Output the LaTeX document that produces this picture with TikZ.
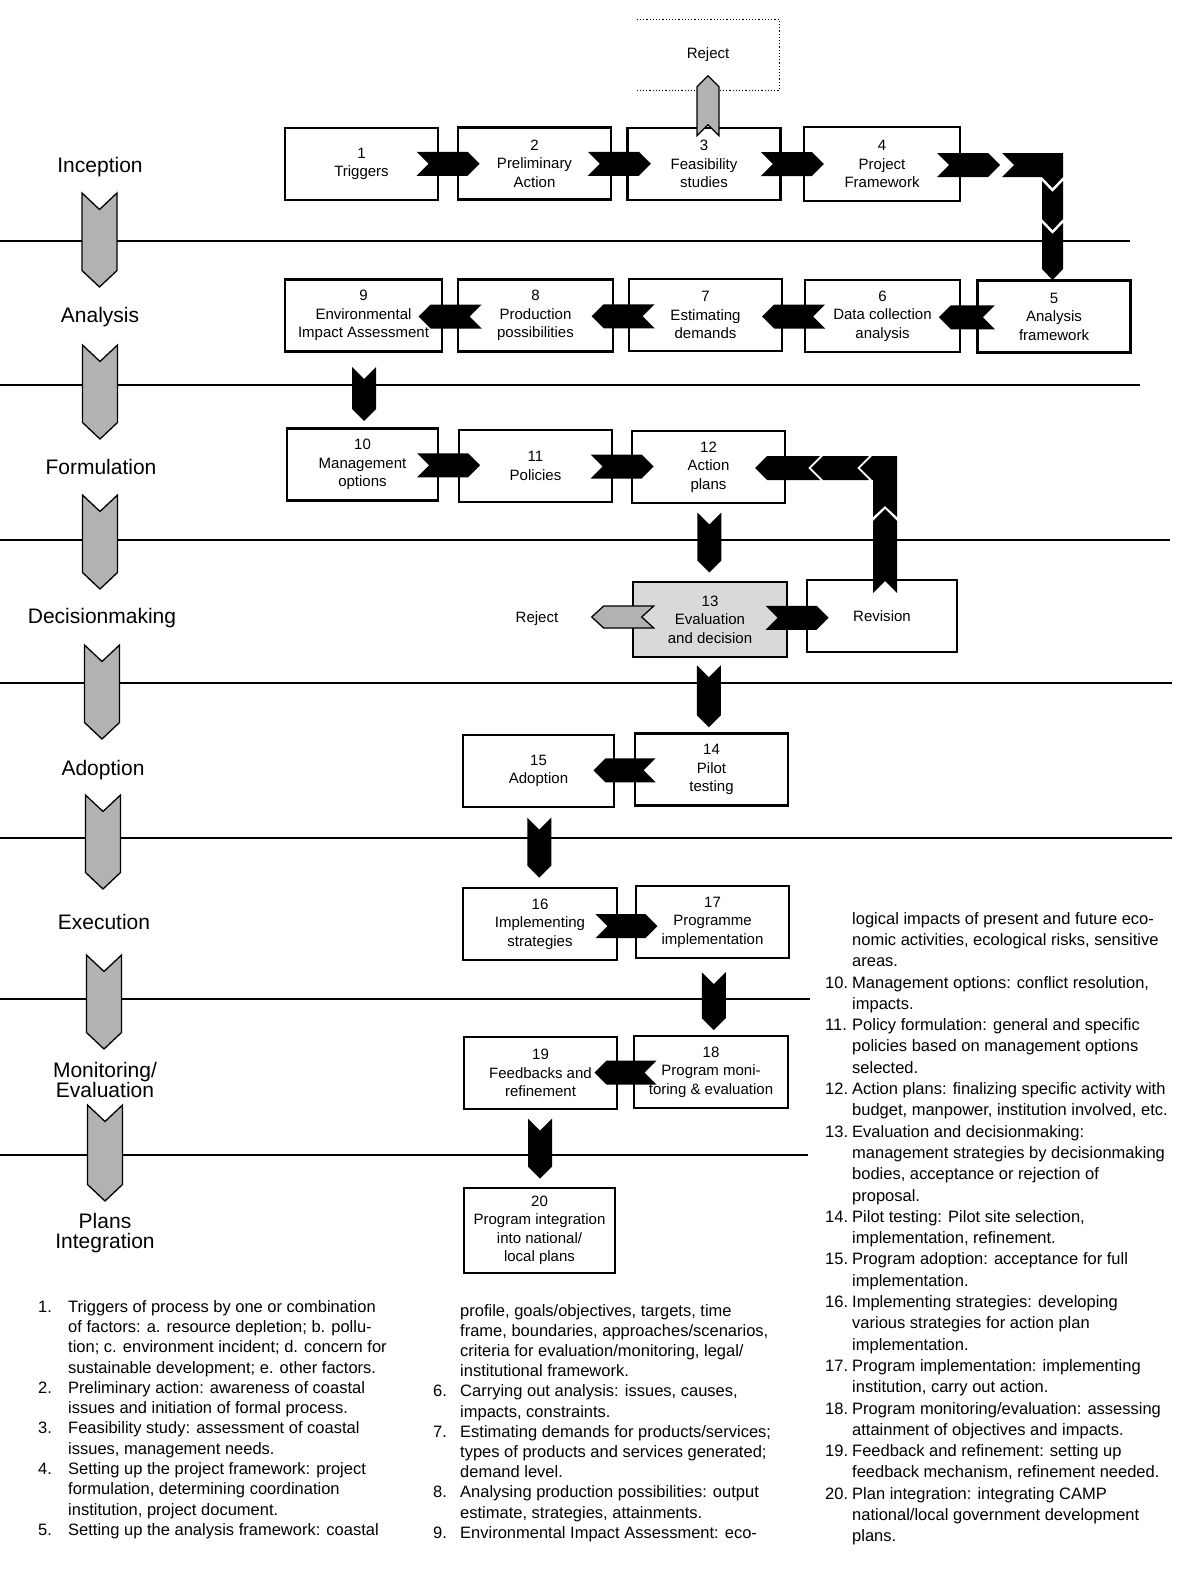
\documentclass[tikz,border=0pt]{standalone}
\usepackage{fontspec}
\setmainfont{Liberation Sans}
\usetikzlibrary{calc}
\tikzset{
  box/.style={draw, line width=2.6pt, minimum width=153pt, minimum height=72pt, align=center, inner sep=2pt, font=\fontsize{15}{18.5}\selectfont},
  stage/.style={align=center, font=\fontsize{21}{19.5}\selectfont},
  lbl/.style={font=\fontsize{15}{18.5}\selectfont},
  sepline/.style={line width=1.8pt},
  blk/.style={fill=black},
  gry/.style={fill=gray!60, draw=black, line width=1.3pt, line join=miter},
  pics/chev/.style args={#1/#2/#3}{code={\path[pic actions] (-#1/2,#2) -- (#1/2-#3,#2) -- (#1/2,0) -- (#1/2-#3,-#2) -- (-#1/2,-#2) -- (-#1/2+#3,0) -- cycle;}},
  desc/.style={anchor=north west, inner sep=0pt, align=left},
}
\newcommand\itm[2][27pt]{\makebox[#1][l]{#2}}
\begin{document}
\begin{tikzpicture}[x=1pt,y=-1pt]
\useasboundingbox[fill=white] (0,0) rectangle (1204,1576);

% stage separator lines
\draw[sepline] (0,241) -- (1130,241);
\draw[sepline] (0,385) -- (1140,385);
\draw[sepline] (0,540) -- (1170,540);
\draw[sepline] (0,683) -- (1172,683);
\draw[sepline] (0,838) -- (1172,838);
\draw[sepline] (0,999) -- (810,999);
\draw[sepline] (0,1155) -- (808,1155);

% stage labels
\node[stage] (s1) at (100,167) {Inception};
\node[stage] (s2) at (100,317) {Analysis};
\node[stage] (s3) at (101,467) {Formulation};
\node[stage] (s4) at (102,618) {Decisionmaking};
\node[stage] (s5) at (103,770) {Adoption};
\node[stage] (s6) at (104,922) {Execution};
\node[stage] (s7) at (105,1080) {Monitoring/\\Evaluation};
\node[stage] (s8) at (105,1233) {Plans\\Integration};

% stage arrows
\pic[gry, rotate=-90] at (99.5,240) {chev=94/17.5/16.5};
\pic[gry, rotate=-90] at (100,392) {chev=94/17.5/16.5};
\pic[gry, rotate=-90] at (100,542) {chev=94/17.5/16.5};
\pic[gry, rotate=-90] at (102,692) {chev=94/17.5/16.5};
\pic[gry, rotate=-90] at (103,842) {chev=94/17.5/16.5};
\pic[gry, rotate=-90] at (104,1002) {chev=94/17.5/16.5};
\pic[gry, rotate=-90] at (105,1153) {chev=96/17.5/16.5};

% reject box at top
\node[lbl, minimum width=142pt, minimum height=71pt, inner sep=0pt] (rej) at (708,55) {Reject};
\draw[dotted, line width=1.2pt] (rej.north west) -- (rej.north east) -- (rej.south east) -- (rej.south west);

% boxes
\node[box] (b1) at (361.5,164) {1\\Triggers};
\node[box] (b2) at (534.5,163.5) {2\\Preliminary\\Action};
\node[box] (b3) at (704,164) {3\\Feasibility\\studies};
\node[box, minimum width=156pt, minimum height=74pt] (b4) at (882,164) {4\\Project\\Framework};
\node[box] (b5) at (1054,316.5) {5\\Analysis\\framework};
\node[box, minimum width=155pt] (b6) at (882.5,316) {6\\Data collection\\analysis};
\node[box] (b7) at (705.5,315) {7\\Estimating\\demands};
\node[box, minimum width=155pt] (b8) at (535.5,315.5) {8\\Production\\possibilities};
\node[box, minimum width=157pt] (b9) at (363.5,315.5) {9\\Environmental\\Impact Assessment};
\node[box, minimum width=151pt] (b10) at (362.5,464.5) {10\\Management\\options};
\node[box] (b11) at (535.5,466) {11\\Policies};
\node[box] (b12) at (708.5,467) {12\\Action\\plans};
\node[box, fill=gray!30, minimum width=154pt, minimum height=75pt] (b13) at (710,619.5) {13\\Evaluation\\and decision};
\node[box, minimum width=150pt] (rev) at (882,616) {Revision};
\node[box, minimum width=151pt] (b15) at (538.5,771) {15\\Adoption};
\node[box] (b14) at (711.5,769.5) {14\\Pilot\\testing};
\node[box, minimum width=154pt] (b16) at (540,924) {16\\Implementing\\strategies};
\node[box] (b17) at (712.5,922) {17\\Programme\\implementation};
\node[box] (b19) at (540.5,1073) {19\\Feedbacks and\\refinement};
\node[box, minimum width=154pt] (b18) at (711,1072) {18\\Program moni-\\toring \& evaluation};
\node[box, minimum width=151pt, minimum height=85pt] (b20) at (539.5,1230.5) {20\\Program integration\\into national/\\local plans};

\node[lbl] (rej2) at (537,619) {Reject};

% row 1 connectors
\pic[blk] at ($(b1.east)!0.5!(b2.west)$) {chev=63/12/12};
\pic[blk] at ($(b2.east)!0.5!(b3.west)$) {chev=63/12/12};
\pic[blk] at ($(b3.east)!0.5!(b4.west)$) {chev=63/12/12};
\pic[blk] at (968.5,165) {chev=63/12/12};
\fill (1002,153) -- (1063,153) -- (1063,177) -- (1052.5,188) -- (1042,177) -- (1002,177) -- (1014,165) -- cycle;
\pic[blk, rotate=-90] at (1052.5,205.5) {chev=49/10.5/11};
\pic[blk, rotate=-90] at (1052.5,251.5) {chev=57/10.5/11};
\pic[gry, rotate=90] at ($(b3.north)+(4,-21)$) {chev=60/11/11};

% row 2 connectors
\pic[blk, rotate=180] at ($(b5.west)!0.5!(b6.east)+(-2,1)$) {chev=56/12/12};
\pic[blk, rotate=180] at ($(b6.west)!0.5!(b7.east)+(0,1)$) {chev=63/12/12};
\pic[blk, rotate=180] at ($(b7.west)!0.5!(b8.east)+(2,1)$) {chev=63/12/12};
\pic[blk, rotate=180] at ($(b8.west)!0.5!(b9.east)+(0,1)$) {chev=63/12/12};
\pic[blk, rotate=-90] at ($(b9.south)!0.5!(b10.north)+(1,4)$) {chev=54/12/12};

% row 3 connectors
\pic[blk] at ($(b10.east)!0.5!(b11.west)$) {chev=63/12/12};
\pic[blk] at ($(b11.east)!0.5!(b12.west)$) {chev=63/12/12};
\pic[blk, rotate=180] at (787.5,468) {chev=65/12/12};
\pic[blk, rotate=180] at (840,468) {chev=58/12/12};
\fill (860,468) -- (872,456) -- (897,456) -- (897,517) -- (885,506) -- (873,517) -- (873,480) -- (872,480) -- cycle;
\pic[blk, rotate=90] at (885,551) {chev=84/12/12};
\pic[blk, rotate=-90] at ($(b12.south)!0.5!(b13.north)$) {chev=60/12/12};

% row 4 connectors
\pic[blk] at ($(b13.east)!0.5!(rev.west)$) {chev=63/12/12};
\pic[gry, rotate=180] at ($(b13.west)+(-9,-2.5)$) {chev=62/11/12};
\pic[blk, rotate=-90] at ($(b13.south)!0.5!(b14.north)+(-2,1)$) {chev=62/12/12};

% lower connectors
\pic[blk, rotate=180] at ($(b14.west)!0.5!(b15.east)$) {chev=62/12/12};
\pic[blk, rotate=-90] at ($(b15.south)!0.5!(b16.north)$) {chev=60/12/12};
\pic[blk] at ($(b16.east)!0.5!(b17.west)+(0,3)$) {chev=62/12/12};
\pic[blk, rotate=-90] at ($(b17.south)!0.5!(b18.north)+(2,4)$) {chev=58/12/12};
\pic[blk, rotate=180] at ($(b18.west)!0.5!(b19.east)$) {chev=62/12/12};
\pic[blk, rotate=-90] at ($(b19.south)!0.5!(b20.north)$) {chev=60/12/12};

% descriptions
\node[desc, font=\fontsize{16.5}{20.3}\selectfont] (d1) at (38,1300) {%
\itm[30pt]{1.}Triggers of process by one or combination\\
\itm[30pt]{}of factors: a. resource depletion; b. pollu-\\
\itm[30pt]{}tion; c. environment incident; d. concern for\\
\itm[30pt]{}sustainable development; e. other factors.\\
\itm[30pt]{2.}Preliminary action: awareness of coastal\\
\itm[30pt]{}issues and initiation of formal process.\\
\itm[30pt]{3.}Feasibility study: assessment of coastal\\
\itm[30pt]{}issues, management needs.\\
\itm[30pt]{4.}Setting up the project framework: project\\
\itm[30pt]{}formulation, determining coordination\\
\itm[30pt]{}institution, project document.\\
\itm[30pt]{5.}Setting up the analysis framework: coastal};

\node[desc, font=\fontsize{16.5}{20.2}\selectfont] (d2) at (433,1304) {%
\itm{}profile, goals/objectives, targets, time\\
\itm{}frame, boundaries, approaches/scenarios,\\
\itm{}criteria for evaluation/monitoring, legal/\\
\itm{}institutional framework.\\
\itm{6.}Carrying out analysis: issues, causes,\\
\itm{}impacts, constraints.\\
\itm{7.}Estimating demands for products/services;\\
\itm{}types of products and services generated;\\
\itm{}demand level.\\
\itm{8.}Analysing production possibilities: output\\
\itm{}estimate, strategies, attainments.\\
\itm{9.}Environmental Impact Assessment: eco-};

\node[desc, font=\fontsize{16.5}{21.3}\selectfont] (d3) at (825,912) {%
\itm{}logical impacts of present and future eco-\\
\itm{}nomic activities, ecological risks, sensitive\\
\itm{}areas.\\
\itm{10.}Management options: conflict resolution,\\
\itm{}impacts.\\
\itm{11.}Policy formulation: general and specific\\
\itm{}policies based on management options\\
\itm{}selected.\\
\itm{12.}Action plans: finalizing specific activity with\\
\itm{}budget, manpower, institution involved, etc.\\
\itm{13.}Evaluation and decisionmaking:\\
\itm{}management strategies by decisionmaking\\
\itm{}bodies, acceptance or rejection of\\
\itm{}proposal.\\
\itm{14.}Pilot testing: Pilot site selection,\\
\itm{}implementation, refinement.\\
\itm{15.}Program adoption: acceptance for full\\
\itm{}implementation.\\
\itm{16.}Implementing strategies: developing\\
\itm{}various strategies for action plan\\
\itm{}implementation.\\
\itm{17.}Program implementation: implementing\\
\itm{}institution, carry out action.\\
\itm{18.}Program monitoring/evaluation: assessing\\
\itm{}attainment of objectives and impacts.\\
\itm{19.}Feedback and refinement: setting up\\
\itm{}feedback mechanism, refinement needed.\\
\itm{20.}Plan integration: integrating CAMP\\
\itm{}national/local government development\\
\itm{}plans.};
\end{tikzpicture}
\end{document}
